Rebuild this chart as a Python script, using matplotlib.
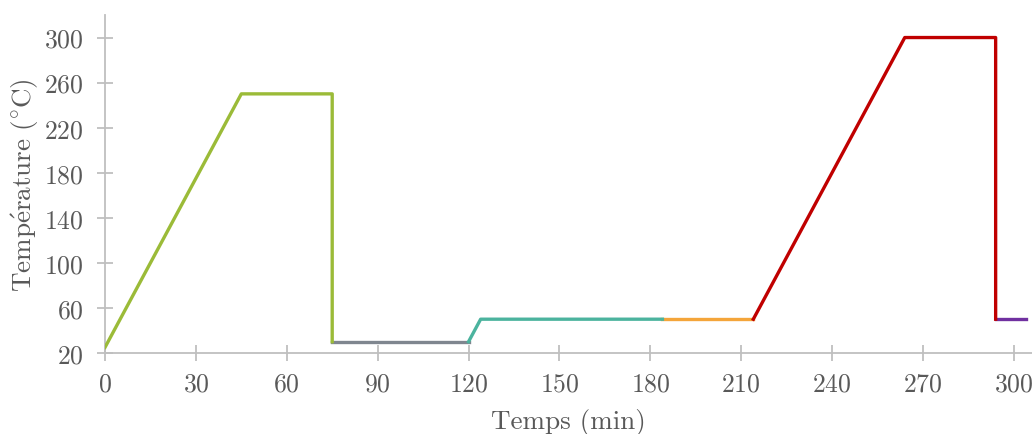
import matplotlib
matplotlib.use("Agg")
import matplotlib.pyplot as plt

# Data segments (time in min, temperature in °C)
green_t = [0, 45, 75, 75]
green_v = [25, 250, 250, 30]
gray_t = [75, 120]
gray_v = [30, 30]
teal_t = [120, 124, 184]
teal_v = [30, 50, 50]
orange_t = [184, 214]
orange_v = [50, 50]
red_t = [214, 264, 294, 294]
red_v = [50, 300, 300, 50]
purple_t = [294, 304]
purple_v = [50, 50]

x_ticks = [0, 30, 60, 90, 120, 150, 180, 210, 240, 270, 300]
y_ticks = [20, 60, 100, 140, 180, 220, 260, 300]

plt.rcParams['font.family'] = ['cmr10', 'DejaVu Serif']
plt.rcParams['mathtext.fontset'] = 'cm'
plt.rcParams['axes.formatter.use_mathtext'] = True

W, H = 1032, 435
fig = plt.figure(figsize=(W / 100, H / 100), dpi=100)
ax = fig.add_axes([105 / W, (H - 354) / H, (W - 105) / W, (354 - 16) / H])

lw = 2.4
ax.plot(green_t, green_v, color='#9BBB38', lw=lw, zorder=3)
ax.plot(gray_t, gray_v, color='#7F868F', lw=lw, zorder=2)
ax.plot(teal_t, teal_v, color='#4BB39E', lw=lw, zorder=3)
ax.plot(orange_t, orange_v, color='#F4A53A', lw=lw, zorder=2)
ax.plot(red_t, red_v, color='#C00000', lw=lw, zorder=3)
ax.plot(purple_t, purple_v, color='#7030A0', lw=lw, zorder=2)

ax.set_xlim(0, 306)
ax.set_ylim(20, 320)
ax.set_xticks(x_ticks)
ax.set_yticks(y_ticks)

spine_c = '#BFBFBF'
text_c = '#595959'
for s in ['top', 'right']:
    ax.spines[s].set_visible(False)
for s in ['left', 'bottom']:
    ax.spines[s].set_color(spine_c)
    ax.spines[s].set_linewidth(1.3)
ax.tick_params(axis='both', direction='inout', length=11, width=1.3, color=spine_c,
               labelcolor=text_c, labelsize=18.5)
ax.tick_params(axis='x', pad=8)
ax.tick_params(axis='y', pad=10)

ax.set_xlabel('Temps (min)', fontsize=19.5, color=text_c, labelpad=9)
ax.set_ylabel(r'$\mathrm{Temp\acute{e}rature\ (^{\circ}C)}$', fontsize=19.5,
              color=text_c, labelpad=2)

fig.savefig('out.png', dpi=100)
